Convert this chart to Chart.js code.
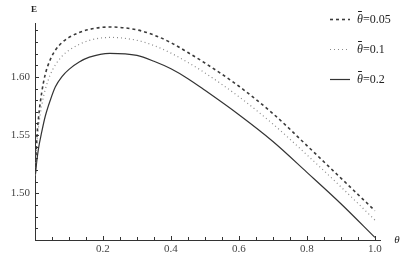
<!DOCTYPE html>
<html>
<head>
<meta charset="utf-8">
<script src="https://cdn.jsdelivr.net/npm/chart.js@4.4.1/dist/chart.umd.min.js"></script>
<style>
    html, body { margin: 0; padding: 0; background: #fff; }
    #wrap { width: 415px; height: 267px; position: relative; }
</style>
</head>
<body>
<div id="wrap"><canvas id="eChart"></canvas></div>
<script>
// theta values (x axis)
const thetas = [0, 0.005, 0.01, 0.02, 0.03, 0.045, 0.06, 0.08, 0.1, 0.13, 0.16, 0.22, 0.3, 0.35, 0.4, 0.45, 0.5, 0.6, 0.7, 0.8, 0.9, 1.0];

// E for each theta-bar
const eBar005 = [1.512, 1.545, 1.564, 1.587, 1.602, 1.615, 1.623, 1.6297, 1.634, 1.6382, 1.6409, 1.643, 1.6405, 1.636, 1.6295, 1.621, 1.612, 1.592, 1.5685, 1.541, 1.513, 1.485];
const eBar01  = [1.512, 1.541, 1.556, 1.576, 1.589, 1.602, 1.6104, 1.618, 1.623, 1.628, 1.6315, 1.634, 1.6315, 1.627, 1.6205, 1.6125, 1.6035, 1.583, 1.5595, 1.533, 1.5055, 1.477];
const eBar02  = [1.512, 1.527, 1.538, 1.553, 1.566, 1.580, 1.5915, 1.6005, 1.6065, 1.6128, 1.617, 1.6203, 1.6185, 1.6135, 1.607, 1.5985, 1.5885, 1.5675, 1.5445, 1.518, 1.491, 1.462];

const seriesLabels = ['0.05', '0.1', '0.2'];

const xTickValues = [];
for (let i = 0; i <= 20; i++) xTickValues.push(+(i * 0.05).toFixed(2));
const xLabelValues = [0.2, 0.4, 0.6, 0.8, 1.0];

const yTickValues = [];
for (let i = 147; i <= 164; i++) yTickValues.push(+(i / 100).toFixed(2));
const yLabelValues = [1.50, 1.55, 1.60];

const serif = '"Liberation Serif", "DejaVu Serif", serif';

function pts(ys) {
    return thetas.map((t, i) => ({ x: t, y: ys[i] }));
}

function isLabel(list, v) {
    return list.some(l => Math.abs(l - v) < 1e-6);
}

// inward tick marks, like the original plot
const innerTicks = {
    id: 'innerTicks',
    afterDraw(chart) {
        const ctx = chart.ctx;
        const xs = chart.scales.x, ys = chart.scales.y;
        const area = chart.chartArea;
        ctx.save();
        ctx.strokeStyle = '#333';
        ctx.lineWidth = 1;
        ctx.beginPath();
        xs.ticks.forEach(t => {
            if (t.value === 0) return;
            const px = Math.round(xs.getPixelForValue(t.value)) + 0.5;
            const len = isLabel(xLabelValues, t.value) ? 4 : 3;
            ctx.moveTo(px, area.bottom);
            ctx.lineTo(px, area.bottom - len);
        });
        ys.ticks.forEach(t => {
            const py = Math.round(ys.getPixelForValue(t.value)) + 0.5;
            const len = isLabel(yLabelValues, t.value) ? 4 : 3;
            ctx.moveTo(area.left, py);
            ctx.lineTo(area.left + len, py);
        });
        ctx.stroke();

        // axis titles
        ctx.fillStyle = '#222';
        ctx.font = 'bold 9px ' + serif;
        ctx.textAlign = 'center';
        ctx.textBaseline = 'middle';
        ctx.fillText('E', area.left - 1, 10);
        ctx.font = 'italic 11px ' + serif;
        ctx.fillText('θ', 397, area.bottom);
        ctx.restore();
    }
};

// legend in the top right corner with theta-bar labels
const barLegend = {
    id: 'barLegend',
    afterDraw(chart) {
        const ctx = chart.ctx;
        const rows = [19, 49, 79];
        ctx.save();
        chart.data.datasets.forEach((ds, i) => {
            const y = rows[i] + 0.5;
            ctx.strokeStyle = ds.borderColor;
            ctx.lineWidth = ds.borderWidth;
            ctx.setLineDash(ds.borderDash || []);
            ctx.beginPath();
            ctx.moveTo(330, y);
            ctx.lineTo(350, y);
            ctx.stroke();
            ctx.setLineDash([]);

            ctx.fillStyle = '#222';
            ctx.textBaseline = 'middle';
            ctx.textAlign = 'left';
            ctx.font = 'italic 12px ' + serif;
            ctx.fillText('θ', 357, rows[i] + 1);
            const w = ctx.measureText('θ').width;
            ctx.fillRect(358, rows[i] - 8, w - 2, 1);
            ctx.font = '12px ' + serif;
            ctx.fillText('=' + seriesLabels[i], 357 + w, rows[i] + 1);
        });
        ctx.restore();
    }
};

new Chart(document.getElementById('eChart'), {
    type: 'line',
    data: {
        datasets: [
            {
                label: seriesLabels[0],
                data: pts(eBar005),
                borderColor: '#3a3a3a',
                borderWidth: 1.6,
                borderDash: [3, 3],
                pointRadius: 0,
                cubicInterpolationMode: 'monotone',
                fill: false
            },
            {
                label: seriesLabels[1],
                data: pts(eBar01),
                borderColor: '#8a8a8a',
                borderWidth: 1.2,
                borderDash: [1, 3],
                pointRadius: 0,
                cubicInterpolationMode: 'monotone',
                fill: false
            },
            {
                label: seriesLabels[2],
                data: pts(eBar02),
                borderColor: '#333',
                borderWidth: 1.2,
                pointRadius: 0,
                cubicInterpolationMode: 'monotone',
                fill: false
            }
        ]
    },
    options: {
        responsive: true,
        maintainAspectRatio: false,
        animation: false,
        layout: { padding: { top: 23, right: 35, left: 0, bottom: 0 } },
        plugins: {
            legend: { display: false },
            tooltip: { enabled: false }
        },
        scales: {
            x: {
                type: 'linear',
                min: 0,
                max: 1.015,
                afterBuildTicks: s => { s.ticks = xTickValues.map(v => ({ value: v })); },
                afterFit: s => { s.height = 27; },
                grid: { display: false, drawTicks: false },
                border: { display: true, color: '#333', width: 1 },
                ticks: {
                    autoSkip: false,
                    maxRotation: 0,
                    padding: 3,
                    color: '#444',
                    font: { family: serif, size: 11 },
                    callback: v => isLabel(xLabelValues, v) ? v.toFixed(1) : ''
                }
            },
            y: {
                type: 'linear',
                min: 1.4598,
                max: 1.6464,
                afterBuildTicks: s => { s.ticks = yTickValues.map(v => ({ value: v })); },
                afterFit: s => { s.width = 35; },
                grid: { display: false, drawTicks: false },
                border: { display: true, color: '#333', width: 1 },
                ticks: {
                    autoSkip: false,
                    padding: 5,
                    color: '#444',
                    font: { family: serif, size: 11 },
                    callback: v => isLabel(yLabelValues, v) ? v.toFixed(2) : ''
                }
            }
        }
    },
    plugins: [innerTicks, barLegend]
});
</script>
</body>
</html>
